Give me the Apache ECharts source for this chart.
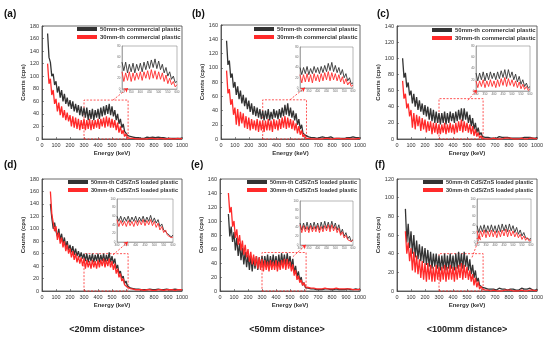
<!DOCTYPE html>
<html><head><meta charset="utf-8">
<script src="https://cdn.jsdelivr.net/npm/echarts@6/dist/echarts.min.js"></script>
<style>html,body{margin:0;padding:0;background:#fff}#c{width:550px;height:341px}</style>
</head><body><div id="c"></div>
<script>
const energy=[40,50,60,70,80,90,100,110,120,130,140,150,160,170,180,190,200,210,220,230,240,250,260,270,280,290,300,310,320,330,340,350,360,370,380,390,400,410,420,430,440,450,460,470,480,490,500,510,520,530,540,550,560,570,580,590,600,610,620,630,640,650,660,670,680,690,700,710,720,730,740,750,760,770,780,790,800,810,820,830,840,850,860,870,880,890,900,910,920,930,940,950,960,970,980,990,1000];
const xTicks=[0,100,200,300,400,500,600,700,800,900,1000];
const panelLabels=['(a)','(b)','(c)','(d)','(e)','(f)'];
const distanceLabels=['<20mm distance>','<50mm distance>','<100mm distance>'];
const nameCommercial50='50mm-th commercial plastic';
const nameCommercial30='30mm-th commercial plastic';
const nameCdS50='50mm-th CdS/ZnS loaded plastic';
const nameCdS30='30mm-th CdS/ZnS loaded plastic';
const yMax=[180,160,140,180,160,120];
const insetYMax=[80,80,80,100,100,100];
const boxTop=[62,55,50,60,55,40];
const boxRight=615;
const arrows=[[[507,62],[614,81]],[[496,55],[604,72]],[[507,48],[571,61]],[[507,58],[614,79]],[[521,49],[614,66]],[[536,36],[593,59]]];

const a50=[168,130,122,100,104,86,92, 74,84,66,78,60,72,56,66,52,62, 48,60,44,56,42,54,38,52,36,50, 34,50,30,46,32,48,30,46,34,48, 32,50,36,52,38,54,40,56,38,52, 36,46,30,40,24,32,18,24,12,14, 6,8,4,5,3,4,2,3,2,3, 1,3,1,2,3,1,2,1,3,1, 2,1,3,1,2,1,2,3,1,2, 1,2,1,3,1,2,1,2,1,2];
const a30=[120,88,96,70,78,56,64, 44,58,38,52,34,46,30,42,28,38, 20,36,18,34,16,32,14,30,16,32, 14,30,16,32,14,30,16,30,18,32, 16,32,20,34,18,36,20,34,18,32, 18,30,14,26,10,20,8,14,4,8, 2,3,1,2,1,1,0,1,0,1, 0,1,0,1,0,0,1,0,1,0, 0,1,0,0,1,0,0,1,0,0, 1,0,0,1,0,0,1,0,0,1];
const b50=[138,104,110,86,92,72,80, 62,74,56,68,50,62,46,58,42,54, 38,50,34,46,32,44,30,42,28,40, 26,40,28,42,26,38,28,42,30,40, 28,42,30,44,32,48,34,50,32,44, 30,40,26,36,20,28,14,20,8,10, 5,6,3,4,2,3,2,3,1,2, 2,1,3,1,2,1,2,1,3,1, 1,2,1,2,1,3,1,2,1,2, 2,1,2,1,3,1,2,1,2,1];
const b30=[96,64,70,48,56,34,44, 20,42,18,38,22,36,16,32,14,30, 12,28,14,26,12,28,10,26,12,26, 10,26,12,28,12,26,10,28,14,26, 12,28,14,30,16,32,14,30,16,28, 14,26,12,22,8,18,6,12,3,6, 1,2,1,1,0,1,0,1,0,1, 0,1,0,0,1,0,1,0,0,1, 0,0,1,0,1,0,0,1,0,0, 1,0,0,1,0,1,0,0,1,0];
const c50=[100,76,82,64,70,54,60, 44,56,40,52,36,48,34,44,30,42, 28,40,24,38,22,36,20,34,20,32, 18,32,20,34,18,32,20,34,22,32, 20,34,22,36,24,38,22,38,24,34, 20,30,16,26,12,20,8,14,5,8, 3,4,2,3,2,2,1,2,1,2, 1,2,3,1,2,1,2,1,2,3, 1,2,1,2,1,3,1,2,1,2, 2,1,2,1,2,3,1,2,1,2];
const c30=[72,50,56,38,44,28,36, 14,32,12,30,16,28,10,26,12,24, 8,22,10,22,6,20,8,20,6,18, 6,18,8,20,6,18,8,20,8,18, 6,20,8,22,10,24,8,22,10,20, 8,18,6,16,4,12,3,8,1,4, 1,1,0,1,0,1,0,0,1,0, 0,1,0,1,0,0,1,0,1,0, 1,0,0,1,0,1,0,0,1,0, 0,1,0,0,1,0,1,0,0,1];
const d50=[null,null,140,118,100,110,96, 88,100,82,92,76,86,70,80,66,74, 62,72,58,68,56,64,54,62,52,60, 48,60,46,58,48,60,46,58,48,60, 46,58,48,60,46,58,48,62,46,56, 44,52,36,42,28,32,20,24,12,16, 8,10,5,6,4,5,3,4,3,3, 2,3,2,3,2,2,3,2,2,3, 2,2,3,2,2,3,2,2,3,2, 2,3,2,2,3,2,2,3,2,2];
const d30=[null,null,160,124,110,96,104, 82,94,76,86,70,80,64,74,60,68, 54,64,50,60,46,56,44,54,40,52, 36,50,38,48,36,50,38,48,36,50, 38,50,40,52,38,50,40,52,38,48, 34,44,28,36,22,28,16,20,10,12, 6,8,4,5,3,4,2,3,2,3, 2,2,1,2,2,1,2,2,1,2, 1,2,2,1,2,2,1,2,2,1, 2,1,2,2,1,2,2,1,2,2];
const e50=[null,null,110,78,92,70,84, 58,76,50,68,44,62,38,56,34,52, 30,50,28,48,32,50,30,48,34,50, 34,50,36,52,34,50,36,52,36,50, 34,52,36,54,38,52,36,54,38,50, 34,46,26,36,20,28,14,20,8,12, 5,7,4,5,3,4,3,3,2,3, 2,3,2,2,3,2,3,2,2,3, 2,2,3,2,2,3,2,3,2,2, 3,2,2,3,2,2,3,2,2,3];
const e30=[null,null,140,112,120,92,100, 76,88,66,80,58,72,52,66,48,60, 42,56,38,52,36,50,32,48,30,46, 28,44,30,42,28,44,30,42,30,44, 28,42,30,44,32,46,30,46,32,42, 28,38,22,30,16,22,12,16,8,12, 6,8,5,6,4,5,4,4,3,4, 3,4,3,3,4,3,3,4,3,3, 3,3,4,3,3,2,3,4,3,3, 3,2,3,3,2,3,2,3,2,3];
const f50=[null,null,88,52,72,46,64, 40,60,36,54,34,50,32,48,30,46, 28,44,26,42,24,40,26,40,24,38, 22,38,24,40,22,38,24,40,24,38, 22,40,24,42,26,40,24,42,26,38, 22,34,18,28,14,22,10,14,6,8, 4,5,3,4,2,3,2,3,2,2, 1,2,3,1,2,1,2,3,1,2, 2,1,2,3,1,2,1,2,3,1, 2,1,2,1,3,2,1,2,1,2];
const f30=[null,null,64,40,52,32,46, 22,42,20,38,18,34,14,32,12,30, 10,30,12,28,10,26,10,28,12,26, 10,26,12,28,10,26,12,28,12,26, 10,26,12,28,14,30,12,28,14,26, 12,22,10,18,6,14,4,10,2,5, 2,2,1,1,1,1,0,1,1,0, 0,1,0,1,0,0,1,0,1,0, 1,0,0,1,0,1,0,0,1,0, 0,1,0,0,1,0,1,0,0,1];

const black=[a50,b50,c50,d50,e50,f50];
const red=[a30,b30,c30,d30,e30,f30];
const names=[[nameCommercial50,nameCommercial30],[nameCommercial50,nameCommercial30],[nameCommercial50,nameCommercial30],[nameCdS50,nameCdS30],[nameCdS50,nameCdS30],[nameCdS50,nameCdS30]];

// layout
const mainGrids=[[42,26,140,113],[221,25,139,114],[397,26,140,113],[42,179,140,112],[220,179,140,112],[397,179,140,112]];
const insetGrids=[[122,46,55,43],[300,47,53,41],[476,46,54,45],[117,199,56,43],[300,201,53,44],[477,199,54,43]];
const legendPos=[[77,26],[254,26],[432,27],[68,179],[247,179],[423,179]];
const labelPos=[[4,9],[192,9],[377,9],[4,160],[191,160],[375,160]];
const distPos=[[107,325],[287,325],[467,325]];

const BLACK='#333333', RED='#ff2a2a', TXT='#333';
const pairs=(arr)=>energy.map((e,i)=>[e,arr[i]]);
const insetPairs=(arr)=>energy.map((e,i)=>[e,arr[i]]).filter(p=>p[0]>=300&&p[0]<=600);
const plain=(v)=>String(v);

const grid=[],xAxis=[],yAxis=[],series=[],legend=[],title=[];
for(let p=0;p<6;p++){
  const g=mainGrids[p];
  grid.push({left:g[0],top:g[1],width:g[2],height:g[3],show:true,borderColor:'#444',borderWidth:0.8,containLabel:false});
  xAxis.push({type:'value',gridIndex:p,min:0,max:1000,interval:100,name:'Energy (keV)',nameLocation:'middle',nameGap:11,
    nameTextStyle:{fontSize:6,fontWeight:'bold',color:TXT},
    axisLine:{lineStyle:{color:'#444',width:0.8}},axisTick:{inside:true,length:2,lineStyle:{color:'#444',width:0.6}},
    axisLabel:{fontSize:5.5,color:TXT,margin:3,formatter:plain},splitLine:{show:false}});
  yAxis.push({type:'value',gridIndex:p,min:0,max:yMax[p],interval:20,name:'Counts (cps)',nameLocation:'middle',nameGap:16,
    nameTextStyle:{fontSize:6,fontWeight:'bold',color:TXT},
    axisLine:{show:true,lineStyle:{color:'#444',width:0.8}},axisTick:{show:true,inside:true,length:2,lineStyle:{color:'#444',width:0.6}},
    axisLabel:{fontSize:5.5,color:TXT,margin:3,formatter:plain},splitLine:{show:false}});
}
for(let p=0;p<6;p++){
  const g=insetGrids[p];
  grid.push({left:g[0],top:g[1],width:g[2],height:g[3],show:true,borderColor:'#888',borderWidth:0.6,backgroundColor:'#fff'});
  xAxis.push({type:'value',gridIndex:6+p,min:300,max:600,interval:50,
    axisLine:{lineStyle:{color:'#777',width:0.5}},axisTick:{show:false},
    axisLabel:{fontSize:3,color:'#666',margin:1.5,formatter:plain},splitLine:{show:false}});
  yAxis.push({type:'value',gridIndex:6+p,min:0,max:insetYMax[p],interval:20,
    axisLine:{show:true,lineStyle:{color:'#777',width:0.5}},axisTick:{show:false},
    axisLabel:{fontSize:3,color:'#666',margin:1.5,formatter:plain},splitLine:{show:false}});
}
for(let p=0;p<6;p++){
  series.push({type:'line',name:names[p][0],xAxisIndex:p,yAxisIndex:p,data:pairs(black[p]),showSymbol:false,
    lineStyle:{color:BLACK,width:1.3},itemStyle:{color:BLACK},z:2,
    markArea:{silent:true,itemStyle:{color:'rgba(0,0,0,0)',borderColor:RED,borderWidth:0.8,borderType:[2,1.5]},
      data:[[{xAxis:300,yAxis:0},{xAxis:boxRight,yAxis:boxTop[p]}]]},
    markLine:{silent:true,symbol:['none','arrow'],symbolSize:4,label:{show:false},
      lineStyle:{color:RED,width:0.8,type:[2,1.5]},
      data:[[{coord:arrows[p][0]},{coord:arrows[p][1]}]]}});
  series.push({type:'line',name:names[p][1],xAxisIndex:p,yAxisIndex:p,data:pairs(red[p]),showSymbol:false,
    lineStyle:{color:RED,width:1.3},itemStyle:{color:RED},z:3});
  series.push({type:'line',name:names[p][0],xAxisIndex:6+p,yAxisIndex:6+p,data:insetPairs(black[p]),showSymbol:false,
    lineStyle:{color:BLACK,width:0.9},itemStyle:{color:BLACK},z:4});
  series.push({type:'line',name:names[p][1],xAxisIndex:6+p,yAxisIndex:6+p,data:insetPairs(red[p]),showSymbol:false,
    lineStyle:{color:RED,width:0.9},itemStyle:{color:RED},z:5});
  legend.push({left:legendPos[p][0],top:legendPos[p][1],orient:'vertical',data:names[p],icon:'rect',itemWidth:20,itemHeight:4,itemGap:2,
    padding:0,selectedMode:false,textStyle:{fontSize:p<3?6:5.6,fontWeight:'bold',color:TXT,padding:[0,0,0,-2]}});
  title.push({text:panelLabels[p],left:labelPos[p][0],top:labelPos[p][1],padding:0,textStyle:{fontSize:10,fontWeight:'bold',color:'#111'}});
}
for(let k=0;k<3;k++){
  title.push({text:distanceLabels[k],left:distPos[k][0],top:distPos[k][1],textAlign:'center',padding:0,
    textStyle:{fontSize:9,fontWeight:'bold',color:'#222'}});
}
const chart=echarts.init(document.getElementById('c'),null,{renderer:'canvas'});
chart.setOption({animation:false,backgroundColor:'#fff',textStyle:{fontFamily:'Liberation Sans, Arial, sans-serif'},
  grid,xAxis,yAxis,series,legend,title});
</script></body></html>
